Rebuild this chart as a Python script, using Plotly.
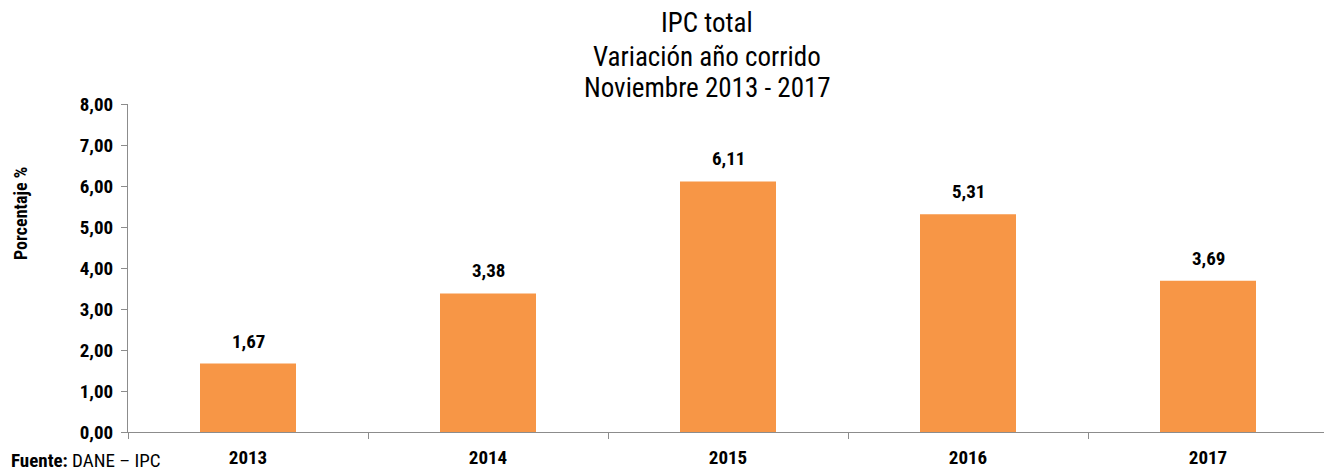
import plotly.graph_objects as go

years = ["2013", "2014", "2015", "2016", "2017"]
values = [1.67, 3.38, 6.11, 5.31, 3.69]
labels = ["1,67", "3,38", "6,11", "5,31", "3,69"]
ytick_vals = [0, 1, 2, 3, 4, 5, 6, 7, 8]
ytick_text = ["0,00", "1,00", "2,00", "3,00", "4,00", "5,00", "6,00", "7,00", "8,00"]
title_lines = ["IPC total", "Variación año corrido", "Noviembre 2013 - 2017"]

FONT = "Liberation Sans Narrow, Arial Narrow, Roboto Condensed, Roboto, sans-serif"

fig = go.Figure()
fig.add_trace(go.Bar(
    x=years, y=values,
    marker=dict(color="#F79646", line=dict(width=0)),
    width=0.4,
))

annotations = [
    dict(x=i, y=v, xref="x", yref="y", text=lab, showarrow=False,
         yanchor="bottom", yshift=9,
         font=dict(family=FONT, size=19, color="black", weight="bold"))
    for i, (v, lab) in enumerate(zip(values, labels))
]
for line, ypos in zip(title_lines, [1.247, 1.143, 1.049]):
    annotations.append(dict(text=line, x=0.4825, xref="paper", y=ypos, yref="paper",
                            yanchor="middle", showarrow=False,
                            font=dict(family=FONT, size=27, color="black")))
annotations += [
    dict(text="Porcentaje %", textangle=-90, x=-0.089, xref="paper", xanchor="center",
         y=0.665, yref="paper", yanchor="middle", showarrow=False,
         font=dict(family=FONT, size=18, color="black", weight="bold")),
    dict(text="<b>Fuente:</b> DANE – IPC", x=-0.098, xref="paper", xanchor="left",
         y=-0.126, yref="paper", yanchor="bottom", showarrow=False, borderpad=0,
         font=dict(family=FONT, size=19, color="black")),
]

fig.update_layout(
    width=1324, height=466,
    margin=dict(l=120, r=4, t=96, b=42),
    plot_bgcolor="white", paper_bgcolor="white",
    showlegend=False,
    font=dict(family=FONT, color="black"),
    xaxis=dict(
        type="category", showline=True, linecolor="#8c8c8c", linewidth=1,
        ticks="outside", tickson="boundaries", ticklen=6, tickcolor="#8c8c8c",
        tickfont=dict(family=FONT, size=19, color="black", weight="bold"), showgrid=False,
        automargin=False, ticklabelstandoff=8,
    ),
    yaxis=dict(
        range=[0, 8], tickvals=ytick_vals, ticktext=ytick_text,
        showline=True, linecolor="#8c8c8c", linewidth=1,
        ticks="outside", ticklen=6, tickcolor="#8c8c8c",
        tickfont=dict(family=FONT, size=19, color="black", weight="bold"), showgrid=False,
        zeroline=False, automargin=False, ticklabelstandoff=4,
    ),
    annotations=annotations,
)

fig.write_html("out.html")
